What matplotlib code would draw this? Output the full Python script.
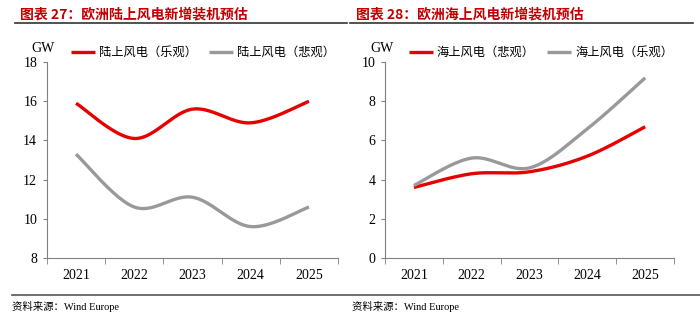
import matplotlib
matplotlib.use('Agg')
import matplotlib.pyplot as plt
from matplotlib.lines import Line2D
import numpy as np

plt.rcParams['font.family'] = ['Liberation Serif', 'Noto Sans CJK SC']

years = ['2021', '2022', '2023', '2024', '2025']

# left: onshore wind (GW)
onshore_opt = [15.9, 14.1, 15.6, 14.9, 16.0]
onshore_pes = [13.3, 10.6, 11.1, 9.6, 10.6]

# right: offshore wind (GW)
offshore_pes = [3.6, 4.3, 4.4, 5.2, 6.7]
offshore_opt = [3.7, 5.1, 4.6, 6.6, 9.2]

RED = '#E60000'
GRAY = '#999999'
TITLE_RED = '#C00000'


def smooth(y, n=40):
    # excel-like smoothed line: catmull-rom bezier through the points
    x = np.arange(len(y), dtype=float)
    y = np.asarray(y, dtype=float)
    xs, ys = [], []
    for i in range(len(y) - 1):
        i0 = max(i - 1, 0)
        i3 = min(i + 2, len(y) - 1)
        p0 = np.array([x[i], y[i]])
        p3 = np.array([x[i + 1], y[i + 1]])
        c1 = p0 + (np.array([x[i + 1], y[i + 1]]) - np.array([x[i0], y[i0]])) / 6
        c2 = p3 - (np.array([x[i3], y[i3]]) - np.array([x[i], y[i]])) / 6
        t = np.linspace(0, 1, n)[:, None]
        pts = (1 - t) ** 3 * p0 + 3 * (1 - t) ** 2 * t * c1 + 3 * (1 - t) * t ** 2 * c2 + t ** 3 * p3
        xs.extend(pts[:, 0])
        ys.extend(pts[:, 1])
    return xs, ys


fig = plt.figure(figsize=(7, 3.22), dpi=100)

ax1 = fig.add_axes([0.067, 0.199, 0.416, 0.608])
ax2 = fig.add_axes([0.55, 0.199, 0.413, 0.608])

panels = [
    (ax1, onshore_opt, onshore_pes, '陆上风电（乐观）', '陆上风电（悲观）', (8, 18), 2),
    (ax2, offshore_pes, offshore_opt, '海上风电（悲观）', '海上风电（乐观）', (0, 10), 2),
]

for ax, red_vals, gray_vals, red_lab, gray_lab, ylim, step in panels:
    xr, yr = smooth(red_vals)
    xg, yg = smooth(gray_vals)
    ax.plot(xr, yr, color=RED, lw=2.4, label=red_lab, solid_capstyle='butt')
    ax.plot(xg, yg, color=GRAY, lw=2.4, label=gray_lab, solid_capstyle='butt')
    ax.set_xlim(-0.5, 4.5)
    ax.set_ylim(*ylim)
    ax.set_yticks(np.arange(ylim[0], ylim[1] + 0.1, step))
    ax.set_xticks(range(len(years)))
    ax.set_xticklabels(years)
    ax.set_xticks(np.arange(-0.5, 4.6, 1), minor=True)
    ax.tick_params(axis='x', which='major', length=0, pad=8, labelsize=10)
    ax.tick_params(axis='x', which='minor', length=4, direction='out', color='#808080')
    ax.tick_params(axis='y', length=3, direction='out', color='#808080', labelsize=10, pad=4)
    for s in ['top', 'right']:
        ax.spines[s].set_visible(False)
    for s in ['left', 'bottom']:
        ax.spines[s].set_color('#808080')
        ax.spines[s].set_linewidth(0.8)
    ax.text(-0.012, 1.035, 'GW', transform=ax.transAxes, fontsize=10, ha='center', va='bottom')
    ax.legend(loc='lower left', bbox_to_anchor=(0.065, 0.99), ncol=2, frameon=False,
              handlelength=2.0, handletextpad=0.3, columnspacing=1.0, borderaxespad=0,
              prop={'family': ['Noto Sans CJK SC'], 'size': 8.8})

# titles
fig.text(0.029, 0.955, '图表 27：欧洲陆上风电新增装机预估', color=TITLE_RED, fontsize=10,
         fontweight='bold', family=['Noto Sans CJK SC'], va='center')
fig.text(0.509, 0.955, '图表 28：欧洲海上风电新增装机预估', color=TITLE_RED, fontsize=10,
         fontweight='bold', family=['Noto Sans CJK SC'], va='center')

# rules
fig.add_artist(Line2D([0.021, 0.495], [0.928, 0.928], color='#333333', lw=1.2))
fig.add_artist(Line2D([0.5, 0.99], [0.928, 0.928], color='#333333', lw=1.2))
fig.add_artist(Line2D([0.017, 1.0], [0.084, 0.084], color='#555555', lw=1.2))

# sources
fig.text(0.017, 0.048, '资料来源：Wind Europe', fontsize=7.5, va='center')
fig.text(0.503, 0.048, '资料来源：Wind Europe', fontsize=7.5, va='center')

fig.savefig('out.png', dpi=100)
